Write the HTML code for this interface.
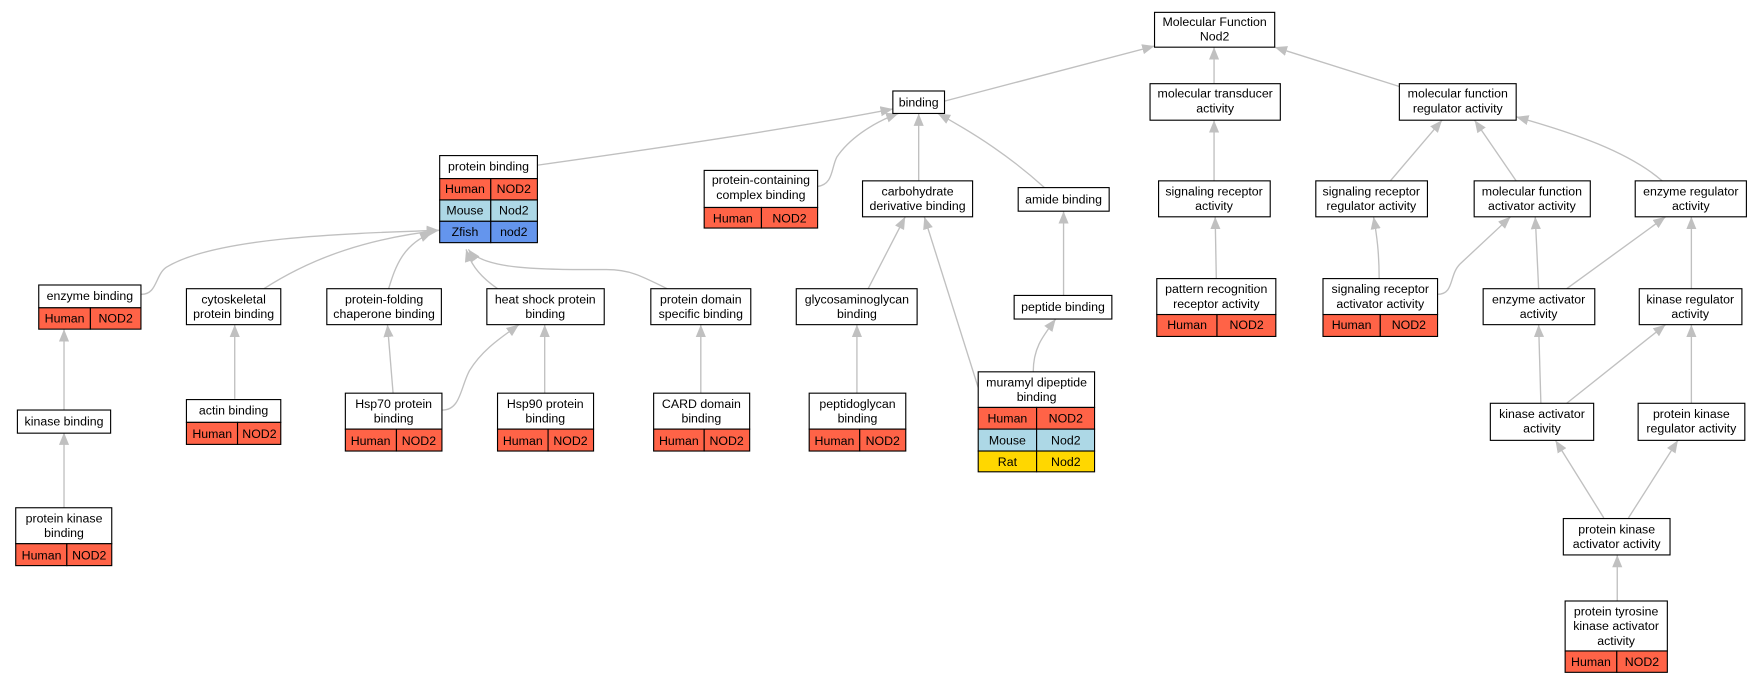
<!DOCTYPE html>
<html><head><meta charset="utf-8"><style>html,body{margin:0;padding:0;background:#fff}svg{display:block}text{font-family:"Liberation Sans",Arial,sans-serif;font-size:11px;fill:#000}</style></head>
<body>
<svg width="1761" height="683" viewBox="0 0 1568 608" preserveAspectRatio="none" xmlns="http://www.w3.org/2000/svg">
<defs><marker id="a" markerUnits="userSpaceOnUse" markerWidth="12" markerHeight="10" refX="11" refY="5" orient="auto"><path d="M0,0.5 L11,5 L0,9.5z" fill="#c0c0c0"/></marker></defs>
<g fill="none" stroke="#c0c0c0" stroke-width="1.2" marker-end="url(#a)">
<path d="M841,90 L1028,41"/>
<path d="M1081,74 L1081,42"/>
<path d="M1246,77 L1135,42"/>
<path d="M479,147 C600,130 700,115 795,97"/>
<path d="M728,166 C742,164 740,150 745,140 C755,125 775,110 800,101"/>
<path d="M818,161 L818,101"/>
<path d="M930,167 C900,140 870,120 835,101"/>
<path d="M1081,161 L1081,107"/>
<path d="M1238,161 L1284,107"/>
<path d="M1350,161 L1313,107"/>
<path d="M1480,161 C1450,135 1400,118 1350,104"/>
<path d="M126,262 C140,262 138,245 148,238 C190,212 300,208 391,205"/>
<path d="M235,257 C280,228 330,212 391,205"/>
<path d="M346,257 C352,238 358,218 385,207"/>
<path d="M443,257 C430,248 420,238 415,222"/>
<path d="M594,257 C570,245 560,240 540,240 C480,240 430,240 417,222"/>
<path d="M773,257 L806,193"/>
<path d="M871,345 L823,193"/>
<path d="M947,263 L947,188"/>
<path d="M1083,248 L1082,193"/>
<path d="M1228,248 C1228,225 1226,210 1223,193"/>
<path d="M1280,262 C1295,262 1290,245 1300,235 L1345,193"/>
<path d="M1370,257 L1367,193"/>
<path d="M1395,257 L1483,193"/>
<path d="M1506,257 L1506,193"/>
<path d="M57,365 L57,293"/>
<path d="M209,355 L209,289"/>
<path d="M350,350 L345,289"/>
<path d="M394,365 C410,365 410,345 418,330 C430,310 450,298 462,289"/>
<path d="M485,350 L485,289"/>
<path d="M624,350 L624,289"/>
<path d="M763,350 L763,289"/>
<path d="M920,331 C920,310 928,300 940,284"/>
<path d="M1372,359 L1370,289"/>
<path d="M1395,359 L1483,289"/>
<path d="M1506,359 L1506,289"/>
<path d="M1428,461 L1385,392"/>
<path d="M1450,461 L1494,392"/>
<path d="M1440,535 L1440,494"/>
<path d="M57,452 L57,385"/>
</g>
<g stroke="#000" stroke-width="1" fill="#fff">
<rect x="1028" y="11" width="107" height="31"/>
<rect x="795" y="81" width="46" height="20"/>
<rect x="1024" y="74.5" width="116" height="32.5"/>
<rect x="1246" y="74.5" width="104" height="32.5"/>
<rect x="391.5" y="138.5" width="87" height="20.5"/>
<rect x="627" y="151.7" width="101" height="33"/>
<rect x="768" y="161" width="98" height="32"/>
<rect x="906.6" y="167" width="81" height="21"/>
<rect x="1031.6" y="161" width="99.4" height="32"/>
<rect x="1171.6" y="161" width="99.4" height="32"/>
<rect x="1312.6" y="161" width="103.4" height="32"/>
<rect x="1456" y="161" width="99" height="32"/>
<rect x="34.5" y="253.7" width="91" height="20.3"/>
<rect x="166" y="257" width="84" height="32"/>
<rect x="291" y="257" width="102" height="32"/>
<rect x="433.5" y="257" width="104.5" height="32"/>
<rect x="579.5" y="257" width="89" height="32"/>
<rect x="709" y="257" width="107.6" height="32"/>
<rect x="903" y="263" width="87" height="21"/>
<rect x="1030" y="248" width="106" height="32"/>
<rect x="1178" y="248" width="102" height="32"/>
<rect x="1320.6" y="257" width="99.4" height="32"/>
<rect x="1459.6" y="257" width="91.4" height="32"/>
<rect x="15.5" y="365" width="83" height="20.6"/>
<rect x="166" y="355.7" width="84" height="20.3"/>
<rect x="307.5" y="350" width="86" height="32"/>
<rect x="443" y="350" width="85.5" height="32"/>
<rect x="582" y="350" width="85.5" height="32"/>
<rect x="720.5" y="350" width="86" height="32"/>
<rect x="871" y="331" width="103.6" height="31.7"/>
<rect x="1327" y="359" width="92" height="33"/>
<rect x="1458.6" y="359" width="95" height="33"/>
<rect x="14" y="452" width="85.5" height="32"/>
<rect x="1392" y="461.6" width="95" height="32.4"/>
<rect x="1393.6" y="535" width="91" height="44.5"/>
</g>
<g stroke="#000" stroke-width="1">
<g fill="#ff6347">
<rect x="391.5" y="159" width="45.5" height="19"/><rect x="437" y="159" width="41.5" height="19"/>
<rect x="627" y="184.7" width="51" height="18.3"/><rect x="678" y="184.7" width="50" height="18.3"/>
<rect x="34.5" y="274" width="46" height="19"/><rect x="80.5" y="274" width="45" height="19"/>
<rect x="1030" y="280" width="53.6" height="19.5"/><rect x="1083.6" y="280" width="52.4" height="19.5"/>
<rect x="1178" y="280" width="51" height="19.5"/><rect x="1229" y="280" width="51" height="19.5"/>
<rect x="166" y="376" width="45.5" height="19.6"/><rect x="211.5" y="376" width="38.5" height="19.6"/>
<rect x="307.5" y="382" width="45.5" height="19.5"/><rect x="353" y="382" width="40.5" height="19.5"/>
<rect x="443" y="382" width="45" height="19.5"/><rect x="488" y="382" width="40.5" height="19.5"/>
<rect x="582" y="382" width="45" height="19.5"/><rect x="627" y="382" width="40.5" height="19.5"/>
<rect x="720.5" y="382" width="45" height="19.5"/><rect x="765.5" y="382" width="41" height="19.5"/>
<rect x="871" y="362.7" width="52" height="19.3"/><rect x="923" y="362.7" width="51.6" height="19.3"/>
<rect x="14" y="484" width="45.5" height="19.5"/><rect x="59.5" y="484" width="40" height="19.5"/>
<rect x="1393.6" y="579.5" width="46" height="19"/><rect x="1439.6" y="579.5" width="45" height="19"/>
</g>
<g fill="#add8e6">
<rect x="391.5" y="178" width="45.5" height="19"/><rect x="437" y="178" width="41.5" height="19"/>
<rect x="871" y="382" width="52" height="19.5"/><rect x="923" y="382" width="51.6" height="19.5"/>
</g>
<g fill="#6495ed"><rect x="391.5" y="197" width="45.5" height="19"/><rect x="437" y="197" width="41.5" height="19"/></g>
<g fill="#ffd700"><rect x="871" y="401.5" width="52" height="18.5"/><rect x="923" y="401.5" width="51.6" height="18.5"/></g>
</g>
<g text-anchor="middle">
<text x="1081.5" y="23">Molecular Function</text><text x="1081.5" y="36">Nod2</text>
<text x="818" y="95">binding</text>
<text x="1082" y="87">molecular transducer</text><text x="1082" y="100">activity</text>
<text x="1298" y="87">molecular function</text><text x="1298" y="100">regulator activity</text>
<text x="435" y="152">protein binding</text>
<text x="414" y="172">Human</text><text x="457.5" y="172">NOD2</text>
<text x="414" y="191">Mouse</text><text x="457.5" y="191">Nod2</text>
<text x="414" y="210">Zfish</text><text x="457.5" y="210">nod2</text>
<text x="677.5" y="164">protein-containing</text><text x="677.5" y="177">complex binding</text>
<text x="652.5" y="198">Human</text><text x="703" y="198">NOD2</text>
<text x="817" y="174">carbohydrate</text><text x="817" y="187">derivative binding</text>
<text x="947" y="181">amide binding</text>
<text x="1081" y="174">signaling receptor</text><text x="1081" y="187">activity</text>
<text x="1221" y="174">signaling receptor</text><text x="1221" y="187">regulator activity</text>
<text x="1364" y="174">molecular function</text><text x="1364" y="187">activator activity</text>
<text x="1505.5" y="174">enzyme regulator</text><text x="1505.5" y="187">activity</text>
<text x="80" y="267">enzyme binding</text>
<text x="57.5" y="287">Human</text><text x="103" y="287">NOD2</text>
<text x="208" y="270">cytoskeletal</text><text x="208" y="283">protein binding</text>
<text x="342" y="270">protein-folding</text><text x="342" y="283">chaperone binding</text>
<text x="485.5" y="270">heat shock protein</text><text x="485.5" y="283">binding</text>
<text x="624" y="270">protein domain</text><text x="624" y="283">specific binding</text>
<text x="763" y="270">glycosaminoglycan</text><text x="763" y="283">binding</text>
<text x="946.5" y="277">peptide binding</text>
<text x="1083" y="261">pattern recognition</text><text x="1083" y="274">receptor activity</text>
<text x="1057" y="293">Human</text><text x="1110" y="293">NOD2</text>
<text x="1229" y="261">signaling receptor</text><text x="1229" y="274">activator activity</text>
<text x="1203.5" y="293">Human</text><text x="1254.5" y="293">NOD2</text>
<text x="1370" y="270">enzyme activator</text><text x="1370" y="283">activity</text>
<text x="1505" y="270">kinase regulator</text><text x="1505" y="283">activity</text>
<text x="57" y="379">kinase binding</text>
<text x="208" y="369">actin binding</text>
<text x="189" y="390">Human</text><text x="231" y="390">NOD2</text>
<text x="350.5" y="363">Hsp70 protein</text><text x="350.5" y="376">binding</text>
<text x="330" y="396">Human</text><text x="373" y="396">NOD2</text>
<text x="485.5" y="363">Hsp90 protein</text><text x="485.5" y="376">binding</text>
<text x="465.5" y="396">Human</text><text x="508" y="396">NOD2</text>
<text x="624.5" y="363">CARD domain</text><text x="624.5" y="376">binding</text>
<text x="604.5" y="396">Human</text><text x="647" y="396">NOD2</text>
<text x="763.5" y="363">peptidoglycan</text><text x="763.5" y="376">binding</text>
<text x="743" y="396">Human</text><text x="786" y="396">NOD2</text>
<text x="923" y="344">muramyl dipeptide</text><text x="923" y="357">binding</text>
<text x="897" y="376">Human</text><text x="949" y="376">NOD2</text>
<text x="897" y="395.5">Mouse</text><text x="949" y="395.5">Nod2</text>
<text x="897" y="415">Rat</text><text x="949" y="415">Nod2</text>
<text x="1373" y="372">kinase activator</text><text x="1373" y="385">activity</text>
<text x="1506" y="372">protein kinase</text><text x="1506" y="385">regulator activity</text>
<text x="57" y="465">protein kinase</text><text x="57" y="478">binding</text>
<text x="37" y="498">Human</text><text x="79.5" y="498">NOD2</text>
<text x="1439.5" y="475">protein kinase</text><text x="1439.5" y="488">activator activity</text>
<text x="1439" y="548">protein tyrosine</text><text x="1439" y="561">kinase activator</text><text x="1439" y="574">activity</text>
<text x="1416.6" y="593">Human</text><text x="1462" y="593">NOD2</text>
</g>
</svg>
</body></html>
